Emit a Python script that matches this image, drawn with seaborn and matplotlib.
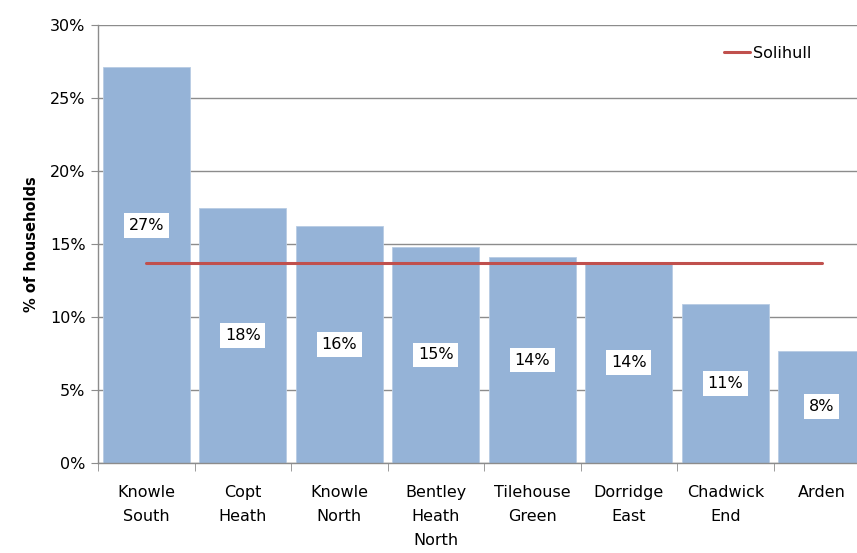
import numpy as np
import pandas as pd
import matplotlib
matplotlib.use('Agg')
import matplotlib.pyplot as plt
import seaborn as sns
from matplotlib.ticker import FixedLocator, PercentFormatter

# --- Data ---
wards = ['Knowle\nSouth', 'Copt\nHeath', 'Knowle\nNorth', 'Bentley\nHeath\nNorth',
         'Tilehouse\nGreen', 'Dorridge\nEast', 'Chadwick\nEnd', 'Arden']
ward_pct = [27.1, 17.5, 16.2, 14.8, 14.1, 13.8, 10.9, 7.7]
solihull_pct = 13.7
y_ticks = [0, 5, 10, 15, 20, 25, 30]

df = pd.DataFrame({'ward': wards, 'pct': ward_pct})

sns.set_style('white')
plt.rcParams['font.family'] = ['DejaVu Sans']
plt.rcParams['text.color'] = 'black'
plt.rcParams['xtick.color'] = 'black'
plt.rcParams['ytick.color'] = 'black'
plt.rcParams['axes.labelcolor'] = 'black'

fig = plt.figure(figsize=(8.57, 5.53), dpi=100)
ax = fig.add_axes([98 / 857, 90 / 553, 772 / 857, 438 / 553])

sns.barplot(data=df, x='ward', y='pct', color='#95B3D7', width=0.9,
            saturation=1, edgecolor='#B8CCE4', linewidth=0.6, ax=ax, zorder=2)

# Solihull average line from first to last category centre
ax.plot([0, len(wards) - 1], [solihull_pct, solihull_pct], color='#C0504D',
        lw=2.2, zorder=3, label='Solihull')

# value labels in white boxes (first one lifted above the line)
for i, v in enumerate(ward_pct):
    y = v / 2
    if i == 0:
        y = v * 0.6
    ax.text(i, y, f'{v:.0f}%', ha='center', va='center', fontsize=11.5,
            zorder=4, bbox=dict(facecolor='white', edgecolor='none', pad=3.5))

ax.set_ylim(0, 30)
ax.set_xlim(-0.5, len(wards) - 0.5)
ax.yaxis.set_major_locator(FixedLocator(y_ticks))
ax.yaxis.set_major_formatter(PercentFormatter(decimals=0))
ax.grid(axis='y', color='#8C8C8C', lw=1, zorder=0)
ax.set_axisbelow(True)

for s in ['top', 'right']:
    ax.spines[s].set_visible(False)
for s in ['left', 'bottom']:
    ax.spines[s].set_color('#8C8C8C')
    ax.spines[s].set_linewidth(1)

ax.tick_params(axis='y', length=5, color='#8C8C8C', labelcolor='black',
               labelsize=11.5, pad=4, direction='out', left=True)
ax.tick_params(axis='x', which='major', length=0, labelsize=11.5, pad=16,
               labelcolor='black')
ax.xaxis.set_minor_locator(FixedLocator(np.arange(-0.5, len(wards), 1.0)))
ax.tick_params(axis='x', which='minor', length=6, color='#8C8C8C',
               direction='out', bottom=True)
for lab in ax.get_xticklabels():
    lab.set_linespacing(1.75)
    lab.set_va('top')

ax.set_xlabel('')
ax.set_ylabel('% of households', fontsize=10.5, fontweight='bold', labelpad=8)

leg = ax.legend(loc='upper left', bbox_to_anchor=(612 / 772, 0.985), frameon=False,
                fontsize=11.5, handlelength=1.6, handletextpad=0.2)
for t in leg.get_texts():
    t.set_color('black')

fig.savefig('out.png', dpi=100)
